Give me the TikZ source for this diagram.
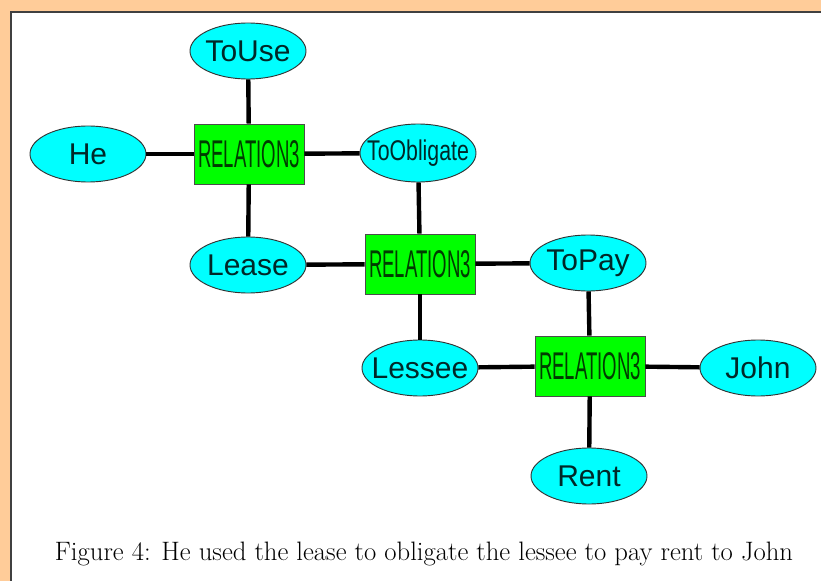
\documentclass[tikz,border=0pt]{standalone}
\usepackage{fontspec}
\newfontfamily\arialfont{Liberation Sans}
\usetikzlibrary{shapes.geometric}
\definecolor{pagebg}{RGB}{255,204,153}
\definecolor{framegray}{RGB}{64,64,64}
\definecolor{conceptfill}{RGB}{0,255,255}
\definecolor{relfill}{RGB}{0,255,0}
\definecolor{conceptink}{RGB}{0,40,40}
\definecolor{relink}{RGB}{0,60,0}
\tikzset{
  concept/.style={ellipse, draw=black!80, line width=0.7pt, fill=conceptfill,
    inner sep=0pt, minimum width=87pt, minimum height=42pt,
    font=\arialfont\fontsize{22.5}{22.5}\selectfont, text=conceptink},
  relation/.style={rectangle, draw=black!70, line width=0.6pt, fill=relfill,
    inner sep=0pt, minimum width=82.5pt, minimum height=45pt, text=relink},
  link/.style={line width=3.3pt, black}
}
% text that does not widen its ellipse
\newcommand{\ctext}[1]{\makebox[0pt]{#1}}
\newcommand{\reltext}{\scalebox{0.48}[1]{\arialfont\fontsize{29}{29}\selectfont RELATION3}}
\begin{document}
\begin{tikzpicture}[x=0.75pt, y=-0.75pt]
    \useasboundingbox (0,0) rectangle (821,581);
    \clip (0,0) rectangle (821,581);
    % Page and frame
    \fill[pagebg] (0,0) rectangle (821,581);
    \fill[white] (11,12) rectangle (830,590);
    \draw[framegray, line width=1.5pt] (11,590) -- (11,12) -- (830,12);
    % Relation boxes
    \node[relation] (rel1) at (249,154) {\reltext};
    \node[relation] (rel2) at (420,264) {\reltext};
    \node[relation] (rel3) at (590,366) {\reltext};
    % Concepts
    \node[concept] (touse)   at (248,51)  {\ctext{ToUse}};
    \node[concept] (he)      at (88,154)  {\ctext{He}};
    \node[concept, minimum height=43.5pt] (toobl) at (418,153) {\ctext{\scalebox{0.71}[0.95]{ToObligate}}};
    \node[concept] (lease)   at (248,265) {\ctext{Lease}};
    \node[concept] (topay)   at (588,263) {\ctext{ToPay}};
    \node[concept] (lessee)  at (420,368) {\ctext{Lessee}};
    \node[concept] (john)    at (758,368) {\ctext{John}};
    \node[concept] (rent)    at (589,476) {\ctext{Rent}};
    % Links
    \foreach \a/\b in {touse/rel1, he/rel1, rel1/toobl, rel1/lease,
                       toobl/rel2, lease/rel2, rel2/topay, rel2/lessee,
                       topay/rel3, lessee/rel3, rel3/john, rel3/rent} {
        \draw[link] (\a) -- (\b);
    }
    % Caption
    \node[font=\fontsize{20}{20}\selectfont] (cap) at (424,554)
        {Figure 4: He used the lease to obligate the lessee to pay rent to John};
\end{tikzpicture}
\end{document}
